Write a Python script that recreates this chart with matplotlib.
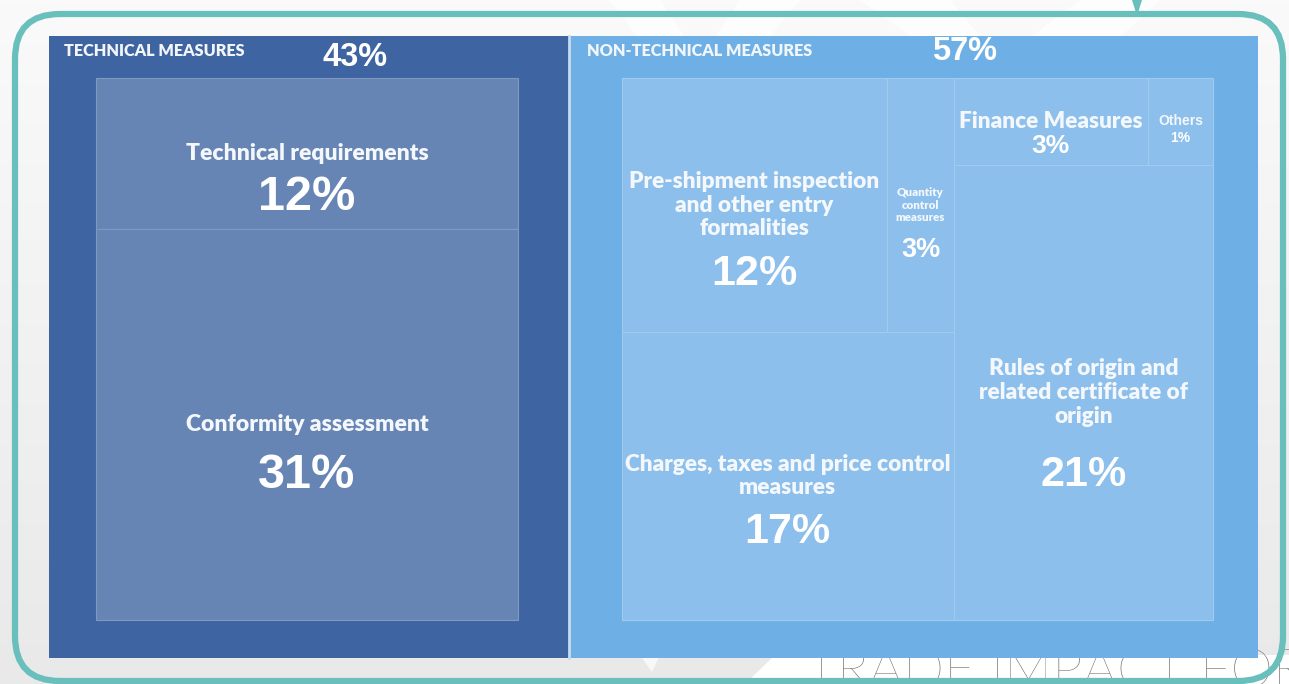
import numpy as np
import matplotlib
matplotlib.use("Agg")
import matplotlib.pyplot as plt
from matplotlib.patches import Rectangle, FancyBboxPatch, Polygon

# data
groups = ["TECHNICAL MEASURES", "NON-TECHNICAL MEASURES"]
group_share = [43, 57]

tech_names = ["Technical requirements", "Conformity assessment"]
tech_share = [12, 31]

nontech_names = ["Pre-shipment inspection\nand other entry\nformalities",
                 "Quantity\ncontrol\nmeasures",
                 "Charges, taxes and price control\nmeasures",
                 "Finance Measures",
                 "Others",
                 "Rules of origin and\nrelated certificate of\norigin"]
nontech_share = [12, 3, 17, 3, 1, 21]

# slice-and-dice structure: column -> rows -> cells (indices into the shares)
tech_layout = [[[0], [1]]]
nontech_layout = [[[0, 1], [2]], [[3, 4], [5]]]

# styles
W, H = 1289, 684
panel_col = ["#3F64A2", "#6EB0E6"]
inner_col = ["#6685B4", "#8CBFEB"]
edge_col = ["#7F99C2", "#A0CAF0"]
name_fs = [[16.5, 16.5], [16.3, 8.3, 16.3, 16.2, 10, 16.3]]
pct_fs = [[35, 35], [31, 19.5, 31, 19, 10, 31]]
pct_dy = [[44, 51], [69, 45, 56, 25, 17, 83]]
group_pct_dx = [306, 396]
group_pct_y = [57, 51]
pads = [(47, 51, 42, 38), (53, 45, 42, 38)]  # left, right, top, bottom
LABEL = ["Lato", "DejaVu Sans"]
NUM = ["Liberation Sans", "DejaVu Sans"]


def slice_dice(x0, y0, w, h, shares, layout):
    rects = {}
    total = sum(shares[i] for col in layout for row in col for i in row)
    x = x0
    for col in layout:
        csum = sum(shares[i] for row in col for i in row)
        cw = w * csum / total
        y = y0
        for row in col:
            rsum = sum(shares[i] for i in row)
            rh = h * rsum / csum
            xx = x
            for i in row:
                iw = cw * shares[i] / rsum
                rects[i] = (xx, y, iw, rh)
                xx += iw
            y += rh
        x += cw
    return rects


fig = plt.figure(figsize=(W / 100, H / 100), dpi=100)
ax = fig.add_axes([0, 0, 1, 1])
ax.set_xlim(0, W)
ax.set_ylim(H, 0)
ax.axis("off")

# background: soft grey gradient with faint white chevrons
grad = np.linspace(0, 1, 200).reshape(-1, 1)
ax.imshow(grad, extent=[0, W, H, 0], cmap=matplotlib.colors.LinearSegmentedColormap.from_list(
    "bg", ["#FAFAFA", "#E9E9E9"]), aspect="auto", zorder=0)
ax.add_patch(Polygon([(610, 0), (660, 0), (700, 60), (740, 0), (800, 0), (700, 120)],
                     closed=True, fc="#FFFFFF", ec="none", alpha=0.8, zorder=0.5))
ax.add_patch(Polygon([(860, 0), (950, 0), (1000, 60), (1080, 0), (1160, 0), (1030, 120)],
                     closed=True, fc="#FFFFFF", ec="none", alpha=0.8, zorder=0.5))
ax.add_patch(Polygon([(745, H), (775, 655), (W, 655), (W, H)],
                     closed=True, fc="#FFFFFF", ec="none", zorder=0.5))
ax.add_patch(Polygon([(640, 655), (660, 655), (652, 672)],
                     closed=True, fc="#F8F8F8", ec="none", zorder=0.6))

# watermark text partly hidden behind the chart
ax.text(806, 687, "TRADE IMPACT FOR", fontsize=39, family=["Lato", "DejaVu Sans"],
        fontweight="light", color="#666666", ha="left", va="baseline", zorder=1)

# panels
px0, py0, pw, ph = 49, 36, 1209, 622
panels = slice_dice(px0, py0, pw, ph, group_share, [[[0, 1]]])

sets = [(tech_names, tech_share, tech_layout), (nontech_names, nontech_share, nontech_layout)]
for g, (gx, gy, gw, gh) in sorted(panels.items()):
    ax.add_patch(Rectangle((gx, gy), gw, gh, fc=panel_col[g], ec="none", zorder=2))
    ax.text(gx + 15 + 3 * g, gy + 15, groups[g], fontsize=11.7, family=LABEL,
            fontweight="heavy", color="#F2F6FB", ha="left", va="center", zorder=4)
    ax.text(gx + group_pct_dx[g], group_pct_y[g], f"{group_share[g]}%", fontsize=23.5,
            family=NUM, fontweight="bold", color="white", ha="center", va="center", zorder=4)

    names, shares, layout = sets[g]
    pl, pr, pt, pb = pads[g]
    rects = slice_dice(gx + pl, gy + pt, gw - pl - pr, gh - pt - pb, shares, layout)
    for i, (x, y, w, h) in rects.items():
        ax.add_patch(Rectangle((x, y), w, h, fc=inner_col[g], ec=edge_col[g], lw=0.8, zorder=3))
        cx, cy = x + w / 2, y + h / 2
        fam = NUM if names[i] == "Others" else LABEL
        ax.text(cx, cy, names[i], fontsize=name_fs[g][i], family=fam, fontweight="heavy",
                color="#F4F8FC", ha="center", va="center", linespacing=1.16, zorder=4)
        ax.text(cx, cy + pct_dy[g][i], f"{shares[i]}%", fontsize=pct_fs[g][i], family=NUM,
                fontweight="bold", color="white", ha="center", va="center", zorder=4)

# separator between the two groups
sep_x = panels[1][0]
ax.plot([sep_x, sep_x], [py0, py0 + ph], color="#C9DBF0", lw=2, zorder=3.5)

# rounded teal frame
ax.add_patch(FancyBboxPatch((15, 14), 1268, 667, boxstyle="round,pad=0,rounding_size=45",
                            fc="none", ec="#69BFBC", lw=4.5, zorder=5))
ax.add_patch(Polygon([(1132, 0), (1142, 0), (1137, 16)], closed=True,
                     fc="#69BFBC", ec="none", zorder=5))

fig.savefig("out.png", dpi=100)
